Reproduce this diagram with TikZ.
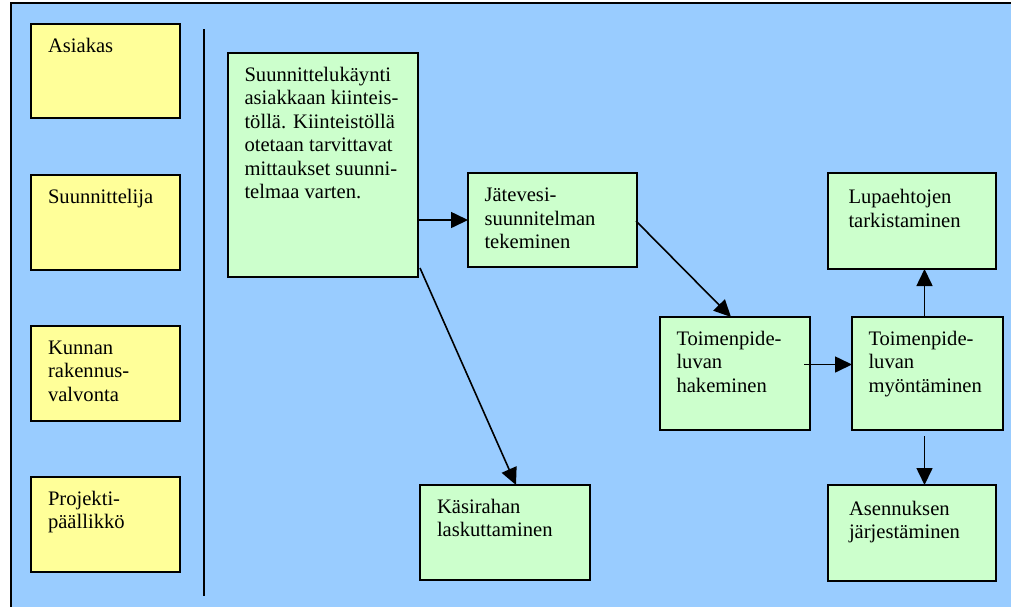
\documentclass[tikz,border=0pt]{standalone}
\usepackage{fontspec}
\setmainfont{Liberation Serif}
\usetikzlibrary{arrows.meta}
\definecolor{sky}{HTML}{99CCFF}
\definecolor{pale}{HTML}{FFFF99}
\definecolor{mint}{HTML}{CCFFCC}
\begin{document}
\begin{tikzpicture}[x=0.5pt,y=-0.5pt,
  role/.style={draw=black, line width=1pt, fill=pale, anchor=north west, inner sep=0, outer sep=0},
  task/.style={draw=black, line width=1pt, fill=mint, anchor=north west, inner sep=0, outer sep=0},
  txt/.style={anchor=north west, inner sep=0, outer sep=0, align=left,
              font=\fontsize{10.3}{11.75}\selectfont},
  flow/.style={draw=black, line width=0.8pt, -{Triangle[length=8.5pt,width=8pt]}}]
% canvas
\useasboundingbox (0,0) rectangle (1011,606);
\fill[white] (0,0) rectangle (1011,606);
\draw[line width=1pt, fill=sky] (11,3) rectangle (1016,612);

% roles column
\node[role, minimum width={149*0.5pt}, minimum height={94*0.5pt}] (asi) at (31,24) {};
\node[role, minimum width={149*0.5pt}, minimum height={95*0.5pt}] (suu) at (31,175) {};
\node[role, minimum width={149*0.5pt}, minimum height={95*0.5pt}] (kun) at (31,326) {};
\node[role, minimum width={149*0.5pt}, minimum height={95*0.5pt}] (pro) at (31,477) {};
\node[txt] (asi-t) at ([shift={(17,12)}]asi.north west) {\strut Asiakas};
\node[txt] (suu-t) at ([shift={(17,12)}]suu.north west) {\strut Suunnittelija};
\node[txt] (kun-t) at ([shift={(17,12)}]kun.north west) {\strut Kunnan\\rakennus-\\valvonta};
\node[txt] (pro-t) at ([shift={(17,12)}]pro.north west) {\strut Projekti-\\päällikkö};

% separator
\coordinate (sepA) at (204,29);
\coordinate (sepB) at (204,596);
\draw[line width=0.8pt] (sepA) -- (sepB);

% process boxes
\node[task, minimum width={190*0.5pt}, minimum height={224*0.5pt}] (big) at (228,53) {};
\node[task, minimum width={169*0.5pt}, minimum height={94*0.5pt}] (jat) at (468,173) {};
\node[task, minimum width={168*0.5pt}, minimum height={96*0.5pt}] (lup) at (828,173) {};
\node[task, minimum width={150*0.5pt}, minimum height={113*0.5pt}] (hak) at (660,317) {};
\node[task, minimum width={151*0.5pt}, minimum height={113*0.5pt}] (myo) at (852,317) {};
\node[task, minimum width={170*0.5pt}, minimum height={95*0.5pt}] (kas) at (420,485) {};
\node[task, minimum width={168*0.5pt}, minimum height={96*0.5pt}] (ase) at (828,485) {};

\node[txt] (big-t) at ([shift={(16.5,12)}]big.north west)
  {\strut Suunnittelukäynti\\asiakkaan kiinteis-\\töllä. Kiinteistöllä\\otetaan tarvittavat\\mittaukset suunni-\\telmaa varten.};
\node[txt] (jat-t) at ([shift={(16.5,12.5)}]jat.north west) {\strut Jätevesi-\\suunnitelman\\tekeminen};
\node[txt] (lup-t) at ([shift={(20.5,14.5)}]lup.north west) {\strut Lupaehtojen\\tarkistaminen};
\node[txt] (hak-t) at ([shift={(16.5,12)}]hak.north west) {\strut Toimenpide-\\luvan\\hakeminen};
\node[txt] (myo-t) at ([shift={(16.5,12)}]myo.north west) {\strut Toimenpide-\\luvan\\myöntäminen};
\node[txt] (kas-t) at ([shift={(17,12)}]kas.north west) {\strut Käsirahan\\laskuttaminen};
\node[txt] (ase-t) at ([shift={(21,14)}]ase.north west) {\strut Asennuksen\\järjestäminen};

% connectors
\coordinate (bigOut) at ([shift={(2,-9)}]big.south east);
\coordinate (hakOut) at ([shift={(-6,-9)}]hak.east);
\coordinate (myoTop) at ([shift={(-3,0)}]myo.north);
\coordinate (myoBot) at ([shift={(-3,6)}]myo.south);

\draw[flow] (big.east |- jat.west) -- (jat.west);
\draw[flow] ([shift={(-1,1)}]jat.east) -- ([shift={(-4,0)}]hak.north);
\draw[flow] (bigOut) -- ([shift={(11,0)}]kas.north);
\draw[flow] (hakOut) -- (hakOut -| myo.west);
\draw[flow] (myoTop) -- (myoTop |- lup.south);
\draw[flow] (myoBot) -- (myoBot |- ase.north);
\end{tikzpicture}
\end{document}
